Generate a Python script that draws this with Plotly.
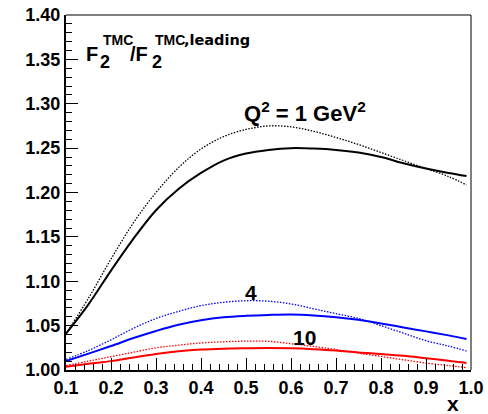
import plotly.graph_objects as go

x = [0.10, 0.15, 0.20, 0.25, 0.30, 0.35, 0.40, 0.45, 0.50, 0.55, 0.60,
     0.65, 0.70, 0.75, 0.80, 0.85, 0.90, 0.95, 0.99]

q1_solid = [1.041, 1.074, 1.112, 1.148, 1.180, 1.204, 1.222, 1.236, 1.244, 1.248, 1.250,
            1.2495, 1.248, 1.245, 1.240, 1.233, 1.227, 1.222, 1.2186]
q1_dot = [1.041, 1.081, 1.125, 1.166, 1.200, 1.228, 1.249, 1.263, 1.271, 1.275, 1.274,
          1.269, 1.262, 1.254, 1.245, 1.236, 1.227, 1.218, 1.2085]
q4_solid = [1.010, 1.0185, 1.027, 1.036, 1.044, 1.051, 1.056, 1.0593, 1.061, 1.062, 1.0625,
            1.0615, 1.0595, 1.0565, 1.0525, 1.048, 1.0435, 1.039, 1.035]
q4_dot = [1.012, 1.022, 1.034, 1.047, 1.058, 1.066, 1.0725, 1.0763, 1.078, 1.0775, 1.0745,
          1.069, 1.0635, 1.058, 1.050, 1.0415, 1.033, 1.027, 1.0214]
q10_solid = [1.0037, 1.007, 1.010, 1.014, 1.018, 1.021, 1.023, 1.024, 1.0245, 1.0248, 1.0245,
             1.0235, 1.022, 1.0197, 1.018, 1.016, 1.0133, 1.0105, 1.0079]
q10_dot = [1.0049, 1.010, 1.015, 1.020, 1.025, 1.028, 1.0305, 1.0318, 1.0325, 1.0323, 1.0296,
           1.0265, 1.023, 1.019, 1.0153, 1.0115, 1.0078, 1.005, 1.0026]

x_ticks = [0.1, 0.2, 0.3, 0.4, 0.5, 0.6, 0.7, 0.8, 0.9, 1.0]
y_ticks = [1.00, 1.05, 1.10, 1.15, 1.20, 1.25, 1.30, 1.35, 1.40]

FONT = "Liberation Sans, Arial, Helvetica, sans-serif"
WIDE = "DejaVu Sans, Verdana, sans-serif"

fig = go.Figure()
series = [
    (q1_dot, "black", "1.5px,1.5px", 1.3),
    (q1_solid, "black", "solid", 2),
    (q4_dot, "#0000ff", "1.5px,1.5px", 1.3),
    (q4_solid, "#0000ff", "solid", 2),
    (q10_dot, "#ff0000", "1.5px,1.5px", 1.3),
    (q10_solid, "#ff0000", "solid", 2),
]
for ys, c, d, w in series:
    fig.add_trace(go.Scatter(x=x, y=ys, mode="lines",
                             line=dict(color=c, dash=d, width=w, shape="spline", smoothing=1.0),
                             showlegend=False, hoverinfo="skip"))

ann = []
def txt(s, xp, yp, size, xanchor="left", yanchor="middle", family=FONT):
    ann.append(dict(text=s, x=xp, y=yp, xref="x", yref="y", showarrow=False,
                    xanchor=xanchor, yanchor=yanchor,
                    font=dict(family=family, size=size, color="black", weight="bold")))

# y title pieces (stacked sub/superscripts)
txt("F", 0.1394, 1.3561, 20)
txt("2", 0.1706, 1.3475, 18)
txt("TMC", 0.1773, 1.3722, 14)
txt("/F", 0.2381, 1.3561, 20)
txt("2", 0.2871, 1.3475, 18)
txt("TMC", 0.2938, 1.3722, 14)
txt(",leading", 0.3580, 1.3722, 14.5, family=WIDE)

# curve labels
txt("Q<sup>2</sup> = 1 GeV<sup>2</sup>", 0.4921, 1.2911, 22)
txt("4", 0.5121, 1.0871, 21, xanchor="center")
txt("10", 0.6290, 1.0364, 21, xanchor="center")
# x axis title
ann.append(dict(text="x", x=0.975, y=-0.0934, xref="paper", yref="paper", showarrow=False,
                xanchor="right", yanchor="middle", height=18, valign="middle",
                font=dict(family=FONT, size=21, color="black", weight="bold")))

fig.update_layout(
    width=488, height=414,
    margin=dict(l=66, r=17, t=15, b=44),
    paper_bgcolor="white", plot_bgcolor="white",
    annotations=ann,
    shapes=[
        dict(type="line", xref="paper", yref="paper", x0=0, x1=1, y0=1, y1=1,
             line=dict(color="black", width=1)),
        dict(type="line", xref="paper", yref="paper", x0=1, x1=1, y0=0, y1=1,
             line=dict(color="black", width=1)),
    ],
    xaxis=dict(range=[0.1, 1.0], tickvals=x_ticks, ticktext=[f"{v:.1f}" for v in x_ticks],
               automargin=False,
               ticks="inside", ticklen=12, tickwidth=1, tickcolor="black",
               minor=dict(dtick=0.02, tick0=0.1, ticks="inside", ticklen=6, tickcolor="black", tickwidth=1),
               showline=True, linewidth=2, linecolor="black", showgrid=False, zeroline=False,
               tickfont=dict(family=FONT, size=18, color="black", weight="bold")),
    yaxis=dict(range=[1.0, 1.4], tickvals=y_ticks, ticktext=[f"{v:.2f}" for v in y_ticks],
               automargin=False,
               ticks="inside", ticklen=12, tickwidth=1, tickcolor="black",
               minor=dict(dtick=0.01, tick0=1.0, ticks="inside", ticklen=6, tickcolor="black", tickwidth=1),
               showline=True, linewidth=2, linecolor="black", showgrid=False, zeroline=False,
               tickfont=dict(family=FONT, size=18, color="black", weight="bold")),
)

fig.write_html("out.html", config={"displayModeBar": False},
               post_script="document.body.style.margin='0';document.body.style.padding='0';")
